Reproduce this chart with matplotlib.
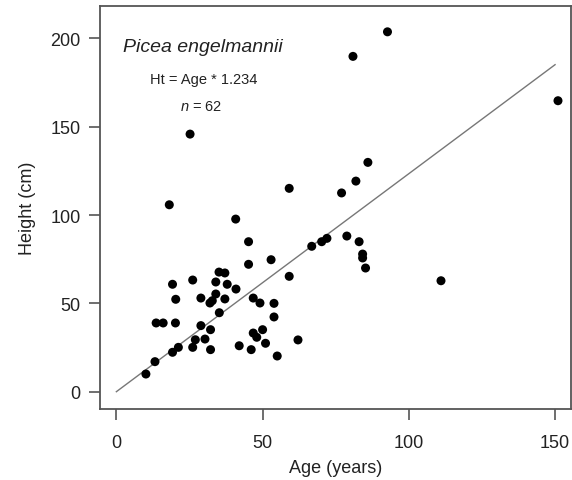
import matplotlib
matplotlib.use("Agg")
import matplotlib.pyplot as plt
import numpy as np

# age (years) and height (cm)
age = [59.1, 77.0, 18.1, 40.8, 45.2, 66.8, 70.2, 72.0, 52.9, 45.2,
       59.1, 35.1, 37.1, 26.1, 19.2, 34.0, 37.9, 40.9, 20.3, 28.9,
       34.0, 32.8, 32.0, 37.1, 46.8, 49.1, 53.9, 35.2, 53.9, 13.6,
       16.0, 20.2, 28.9, 32.2, 46.8, 48.0, 50.0, 62.1, 27.0, 26.1,
       30.3, 21.2, 19.2, 32.2, 42.0, 46.1, 51.0, 55.0, 13.2, 10.1,
       25.2, 92.7, 80.9, 151.0, 86.0, 81.9, 78.8, 83.0, 84.2, 84.2,
       85.2, 111.0]
height = [115.1, 112.5, 105.8, 97.7, 84.9, 82.3, 84.9, 86.8, 74.7, 72.1,
          65.3, 67.7, 67.2, 63.2, 60.8, 62.1, 60.8, 58.1, 52.3, 53.0,
          55.3, 51.5, 50.2, 52.5, 53.0, 50.2, 50.0, 44.7, 42.3, 38.9,
          38.9, 38.9, 37.4, 35.1, 33.2, 30.8, 35.1, 29.3, 29.4, 25.1,
          29.8, 25.1, 22.3, 23.8, 26.0, 23.8, 27.4, 20.2, 17.0, 10.0,
          145.8, 203.7, 189.8, 164.7, 129.8, 119.2, 88.1, 84.9, 77.9, 75.7,
          70.0, 62.8]
slope = 1.234
fit_x = [0, 150]

x_ticks = [0, 50, 100, 150]
y_ticks = [0, 50, 100, 150, 200]

plt.rcParams["font.family"] = ["Liberation Sans", "DejaVu Sans"]
plt.rcParams["mathtext.fontset"] = "custom"
plt.rcParams["mathtext.it"] = "Liberation Sans:italic"
plt.rcParams["mathtext.rm"] = "Liberation Sans"

fig = plt.figure(figsize=(5.72, 4.81), dpi=100)
ax = fig.add_axes([0.1748, 0.1476, 0.8232, 0.8378])

ax.scatter(age, height, s=42, color="black", edgecolors="none", zorder=3)
ax.plot(fit_x, [v * slope for v in fit_x], color="#777777", lw=1.0, zorder=2)

ax.set_xlim(-5.6, 155.4)
ax.set_ylim(-9.8, 218.3)
ax.set_xticks(x_ticks)
ax.set_yticks(y_ticks)
ax.tick_params(direction="out", length=8, width=1.2, color="#555555",
               labelsize=13, labelcolor="#222222")
ax.tick_params(axis="x", pad=10)
ax.tick_params(axis="y", pad=6)
for sp in ax.spines.values():
    sp.set_color("#555555")
    sp.set_linewidth(1.3)

ax.set_xlabel("Age (years)", fontsize=13, color="#222222", labelpad=6)
ax.set_ylabel("Height (cm)", fontsize=13, color="#222222", labelpad=10)

ax.text(0.049, 0.9, "Picea engelmannii", transform=ax.transAxes,
        fontsize=14, style="italic", color="#222222", va="center")
ax.text(0.106, 0.818, "Ht = Age * 1.234", transform=ax.transAxes,
        fontsize=10.5, color="#222222", va="center")
ax.text(0.17, 0.751, "$\\it{n}$ = 62", transform=ax.transAxes,
        fontsize=10.5, color="#222222", va="center")

fig.savefig("out.png", dpi=100)
